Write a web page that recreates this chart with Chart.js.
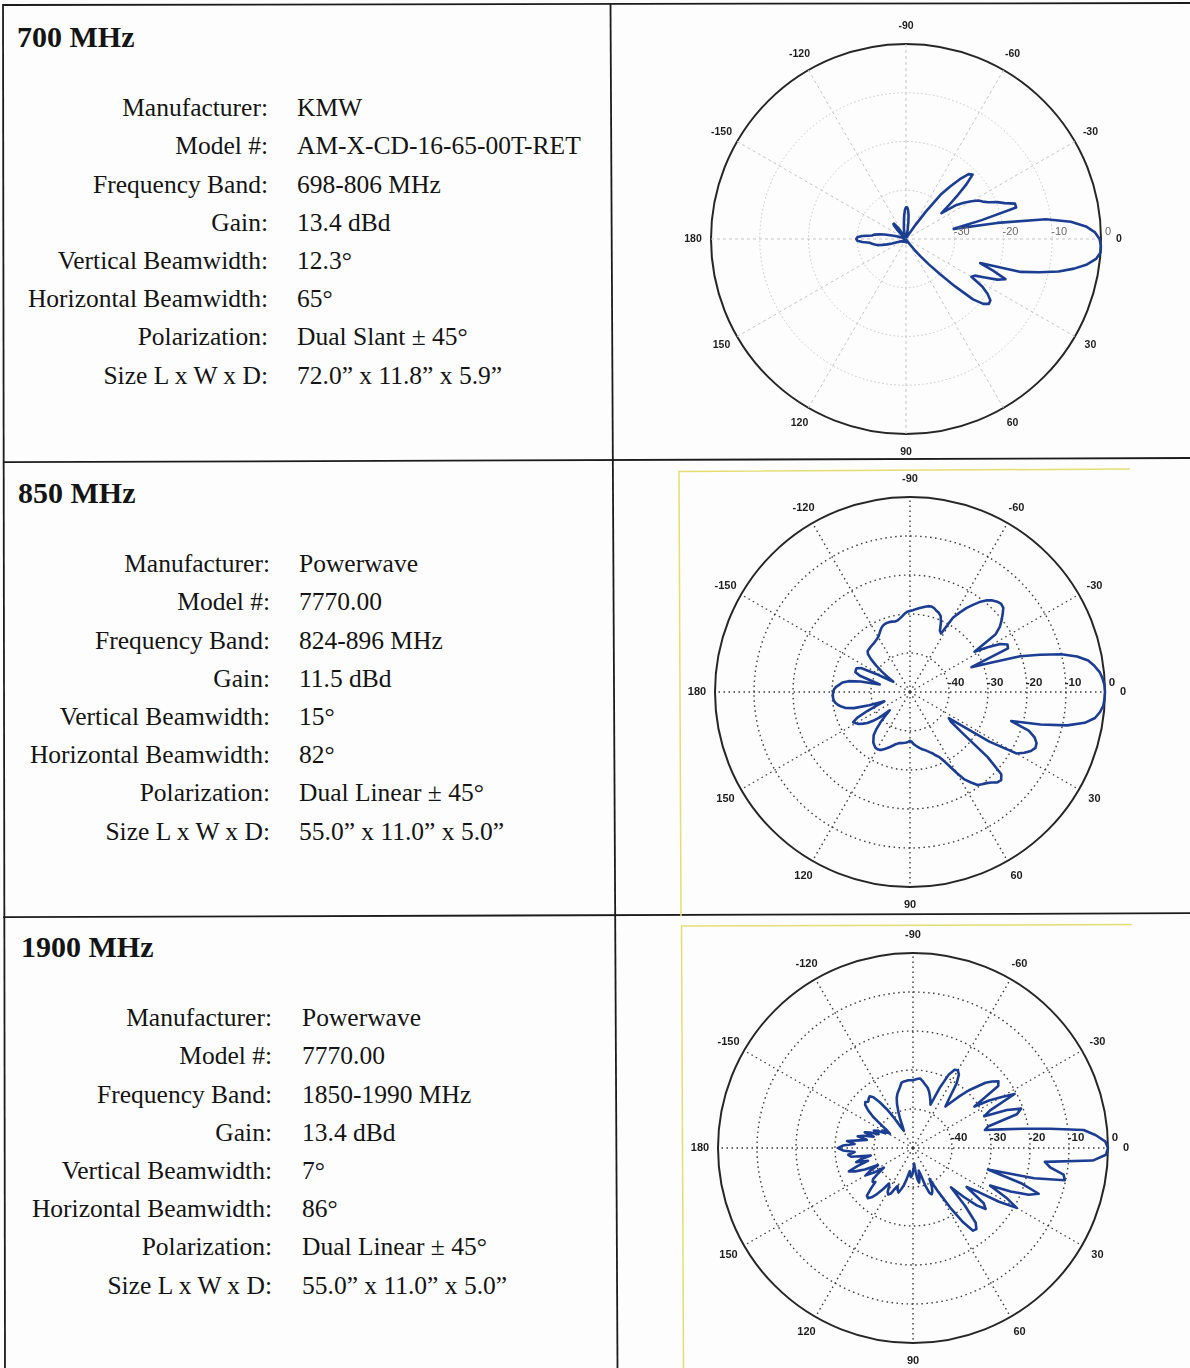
<!DOCTYPE html>
<html>
<head>
<meta charset="utf-8">
<title>Antenna vertical patterns</title>
<script src="https://cdn.jsdelivr.net/npm/chart.js@4/dist/chart.umd.min.js"></script>
<style>
  html, body { margin: 0; padding: 0; background: #ffffff; }
  #page { position: relative; width: 1190px; height: 1368px; overflow: hidden; background: #fdfdfd; }
  .txt { position: absolute; font-family: "Liberation Serif", "Times New Roman", serif; color: #141414; white-space: nowrap; line-height: 1; }
  .title { font-weight: bold; font-size: 30px; }
  .key { font-size: 25.5px; text-align: right; left: 0; }
  .val { font-size: 25.5px; }
  canvas { position: absolute; }
  svg { position: absolute; left: 0; top: 0; }
</style>
</head>
<body>
<div id="page">
  <svg width="1190" height="1368" viewBox="0 0 1190 1368">
    <g stroke="#1c1c1c" stroke-width="1.8" fill="none">
      <line x1="3" y1="5" x2="1190" y2="3"/>
      <line x1="3" y1="4" x2="5" y2="1368"/>
      <line x1="610.5" y1="4" x2="617.5" y2="1368"/>
      <line x1="3" y1="462.2" x2="1190" y2="458"/>
      <line x1="3" y1="917.2" x2="1190" y2="913.2"/>
    </g>
    <g stroke="#e6dd72" stroke-width="1.5" fill="none">
      <polyline points="1130,469 679,471.5 681,916"/>
      <polyline points="1132,924.5 681.5,926 683.5,1368"/>
    </g>
  </svg>
  <canvas id="p700" width="460" height="460" style="left:676px;top:9px"></canvas>
  <canvas id="p850" width="460" height="460" style="left:680px;top:462px"></canvas>
  <canvas id="p1900" width="460" height="460" style="left:683px;top:918px"></canvas>
</div>

<script>
// ---- Table text ----
const bandTitles = ['700 MHz', '850 MHz', '1900 MHz'];
const specNames = ['Manufacturer:', 'Model #:', 'Frequency Band:', 'Gain:',
  'Vertical Beamwidth:', 'Horizontal Beamwidth:', 'Polarization:', 'Size L x W x D:'];
const specs700 = ['KMW', 'AM-X-CD-16-65-00T-RET', '698-806 MHz', '13.4 dBd',
  '12.3°', '65°', 'Dual Slant ± 45°', '72.0” x 11.8” x 5.9”'];
const specs850 = ['Powerwave', '7770.00', '824-896 MHz', '11.5 dBd',
  '15°', '82°', 'Dual Linear ± 45°', '55.0” x 11.0” x 5.0”'];
const specs1900 = ['Powerwave', '7770.00', '1850-1990 MHz', '13.4 dBd',
  '7°', '86°', 'Dual Linear ± 45°', '55.0” x 11.0” x 5.0”'];

// ---- Polar axes ----
// pattern sampled every 2 degrees, 0 = boresight, clockwise positive (down-tilt)
const angleStep = 2;
const angleCategories = Array.from({ length: 360 / angleStep }, (_, i) => i * angleStep);
const angleTickLabels = ['0', '30', '60', '90', '120', '150', '180', '-150', '-120', '-90', '-60', '-30'];
const ringLabels700 = ['-30', '-20', '-10', '0'];
const ringLabels850 = ['-40', '-30', '-20', '-10', '0'];
const ringLabels1900 = ['-40', '-30', '-20', '-10', '0'];

// ---- Relative gain (dB) at 0, 2, 4 ... 358 degrees ----
const gain700 = [
  -0.3, 0, 0, -0.8, -2.5, -5, -8, -11.8, -15.5, -24,
  -21, -18, -19.5, -22, -24, -24.5, -21.5, -19.8, -18.6, -18.4,
  -19.3, -21.5, -26, -30, -33, -35.5, -37, -38.5, -39.2, -39.5,
  -39.5, -39.6, -39.7, -39.6, -39.5, -39.6, -39.7, -39.8, -39.7, -39.6,
  -39.5, -39.4, -39.3, -39.4, -39.5, -39.5, -39.6, -39.7, -39.6, -39.5,
  -39.4, -39.5, -39.6, -39.7, -39.6, -39.5, -39.4, -39.5, -39.6, -39.5,
  -39.4, -39.3, -39.4, -39.5, -39.6, -39.5, -39.4, -39.3, -39.2, -39.3,
  -39.2, -39.1, -39.2, -39.3, -39.4, -39.3, -39.2, -39.0, -38.8, -38.5,
  -38, -37, -36, -35, -34, -33.5, -33, -32.5, -31, -30,
  -29.8, -30, -31, -33, -33.5, -34.5, -35.5, -37, -38, -39,
  -39.3, -39.5, -39.5, -39.6, -39.5, -39.4, -39.5, -39.6, -39.5, -39.4,
  -39.5, -39, -38.5, -37.5, -36.5, -36, -36, -37, -38, -39,
  -39.5, -39.6, -39.5, -39.4, -39.5, -39.5, -39.3, -39, -38.5, -38,
  -37.5, -37, -36, -35, -34, -33.5, -33.5, -34, -35, -36.5,
  -38, -39, -39.5, -39.6, -39.5, -39.6, -39.5, -39.4, -39.5, -39.3,
  -39, -38.5, -36.5, -33, -28.5, -26, -23.5, -21.5, -21, -23.5,
  -26.5, -29, -31, -27.5, -26, -24.5, -23.2, -22.5, -21.5, -19.8,
  -18.5, -16.5, -16.5, -24, -30, -21, -11, -6, -3, -1.2
];
const gain850 = [
  0, -0.1, -0.3, -1.0, -2.1, -4.5, -8.8, -15.5, -23, -18,
  -16, -15, -14.8, -15.5, -16.8, -18.5, -26, -38, -37, -33,
  -24, -18.5, -17.5, -17.8, -18.8, -19.5, -20, -20.5, -22, -23.5,
  -26, -28.5, -30.5, -31.8, -32.5, -33.3, -33.8, -34.3, -34.7, -35,
  -35.4, -35.8, -36.2, -36.6, -37.2, -37.5, -37.2, -37, -36.9, -36.8,
  -36.7, -36.6, -36.3, -36, -35.5, -35, -34.5, -34, -33.5, -33.2,
  -33.1, -33.2, -33.6, -34, -34.8, -35.5, -37, -39, -41, -43,
  -40, -38, -36.5, -35.5, -34.5, -34, -33.5, -35, -38, -41,
  -43, -39, -35, -33, -32, -31.2, -30.6, -30.3, -30.2, -30.2,
  -30.3, -30.5, -31, -31.8, -32.5, -34, -37, -42, -40, -36.5,
  -35.1, -35, -35, -36, -40, -44, -45, -43, -41, -39,
  -37, -35.5, -34.9, -34.8, -34.7, -34.6, -34.5, -34.4, -34.2, -34,
  -33.7, -33.2, -32.6, -32, -31.6, -31.4, -31.3, -31.3, -31.4, -31.5,
  -31.4, -31, -30.5, -29.9, -29.4, -29.2, -29, -28.7, -28.4, -28.1,
  -27.8, -27.5, -27.4, -27.6, -28.1, -28.4, -29, -30.5, -32.5, -33,
  -28, -26, -24, -22.3, -20.6, -19.3, -18.4, -17.8, -17.5, -17.8,
  -19, -20.2, -21.5, -23.5, -30.5, -27, -23.8, -22.2, -22.5, -33,
  -28, -20.3, -15.3, -10, -6.2, -3.6, -2.2, -1.1, -0.5, -0.1
];
const gain1900 = [
  0, -0.5, -3.8, -16, -14.5, -10.8, -10.2, -18, -30, -21,
  -15.7, -18, -22.6, -28, -23, -19.3, -24, -30, -33, -27,
  -25.7, -28, -32, -36, -30, -25, -23.6, -23.8, -27, -32,
  -37, -41, -39, -37.8, -37.2, -37.8, -40, -43, -44, -42,
  -41, -42, -44, -46, -45, -44, -43, -42.5, -43, -44,
  -43, -41.5, -40, -39, -38, -38.5, -39.5, -38.5, -37, -36.5,
  -37, -38.5, -39, -37, -35, -33.5, -32.7, -33, -35, -37,
  -36.5, -37, -39, -41, -38, -36, -37.5, -40, -36.5, -34,
  -32.5, -35, -38, -35, -36.5, -39, -34, -33.3, -35, -32,
  -30.8, -32, -35, -33, -36, -38, -35.5, -37, -39.5, -37,
  -38.5, -40.5, -39, -40, -42, -41, -43, -42, -40, -37,
  -35, -33.5, -33, -33.5, -33, -32.7, -33.5, -35.5, -38, -41,
  -44, -45, -44, -42, -40, -38, -36.5, -35.5, -34.8, -34,
  -33, -32.8, -32.7, -32.6, -32.6, -32.6, -32.4, -32.2, -32.1, -32.6,
  -33.2, -33.7, -34.2, -35, -36, -37, -38, -33, -29, -27.3,
  -27, -27.8, -30, -34, -36.5, -34.5, -32, -29.5, -27.5, -25,
  -23.5, -22.2, -23, -31, -27, -24, -20.5, -28, -30, -24,
  -20.5, -22, -30, -31, -27, -21.5, -14.5, -6, -3, -0.7
];

// ---- Left column text ----
const page = document.getElementById('page');
function addText(cls, text, styles) {
  const el = document.createElement('div');
  el.className = 'txt ' + cls;
  el.textContent = text;
  Object.assign(el.style, styles);
  page.appendChild(el);
}
const blocks = [
  { values: specs700, titleX: 17, titleBase: 47, firstBase: 116.6, keyRight: 268, valX: 297 },
  { values: specs850, titleX: 18, titleBase: 503, firstBase: 572.6, keyRight: 270, valX: 299 },
  { values: specs1900, titleX: 21, titleBase: 957, firstBase: 1026.6, keyRight: 272, valX: 302 }
];
const lineGap = 38.2;
blocks.forEach((b, r) => {
  addText('title', bandTitles[r], { left: b.titleX + 'px', top: (b.titleBase - 0.8375 * 30) + 'px' });
  specNames.forEach((name, i) => {
    const top = b.firstBase + i * lineGap - 0.8375 * 25.5;
    addText('key', name, { width: b.keyRight + 'px', top: top + 'px' });
    addText('val', b.values[i], { left: b.valX + 'px', top: top + 'px' });
  });
});

// ---- Polar pattern charts ----
const polarText = {
  id: 'polarText',
  afterDraw(chart, args, o) {
    const s = chart.scales.r;
    const ctx = chart.ctx;
    const per = chart.data.labels.length / o.angleLabels.length;
    ctx.save();
    ctx.textAlign = 'center';
    ctx.textBaseline = 'middle';
    ctx.font = o.angleFont;
    ctx.fillStyle = o.angleColor;
    o.angleLabels.forEach((txt, k) => {
      const p = s.getPointPosition(k * per, s.drawingArea + o.labelGap);
      ctx.fillText(txt, p.x, p.y);
    });
    ctx.font = o.ringFont;
    ctx.fillStyle = o.ringColor;
    o.ringLabels.forEach(txt => {
      const d = s.getDistanceFromCenterForValue(Number(txt));
      ctx.fillText(txt, s.xCenter + d + 7, s.yCenter + o.ringDy);
    });
    ctx.restore();
  }
};

function drawPattern(id, values, cfg) {
  const spokeEvery = 30 / angleStep;
  new Chart(document.getElementById(id), {
    type: 'radar',
    data: {
      labels: angleCategories,
      datasets: [{
        data: values,
        borderColor: '#1b3d92',
        borderWidth: 2.6,
        borderJoinStyle: 'round',
        pointRadius: 0,
        fill: false,
        tension: 0
      }]
    },
    options: {
      responsive: false,
      animation: false,
      devicePixelRatio: 1,
      layout: { padding: 35 },
      plugins: {
        legend: { display: false },
        tooltip: { enabled: false },
        polarText: {
          angleLabels: angleTickLabels,
          ringLabels: cfg.ringLabels,
          angleFont: cfg.angleFont,
          angleColor: '#1e1e1e',
          ringFont: cfg.ringFont,
          ringColor: cfg.ringColor,
          ringDy: cfg.ringDy,
          labelGap: 18
        }
      },
      scales: {
        r: {
          min: cfg.min,
          max: 0,
          startAngle: 90,
          ticks: { display: false, stepSize: 10 },
          pointLabels: { display: false },
          grid: {
            circular: true,
            color: c => (c.tick && c.tick.value === 0) ? '#262626' : cfg.ringColorLine,
            lineWidth: c => (c.tick && c.tick.value === 0) ? 2 : cfg.gridWidth
          },
          border: {
            dash: c => (c.tick && c.tick.value === 0) ? [] : cfg.ringDash
          },
          angleLines: {
            color: c => (c.index % spokeEvery === 0) ? cfg.ringColorLine : 'rgba(0,0,0,0)',
            lineWidth: c => (c.index % spokeEvery === 0) ? cfg.gridWidth : 0,
            borderDash: cfg.spokeDash
          }
        }
      }
    },
    plugins: [polarText]
  });
}

drawPattern('p700', gain700, {
  min: -40, ringLabels: ringLabels700,
  angleFont: 'bold 10.5px "Liberation Sans", Arial, sans-serif',
  ringFont: '11px "Liberation Sans", Arial, sans-serif', ringColor: '#6a6a6a', ringDy: -7,
  ringColorLine: '#c4c4c4', gridWidth: 1, ringDash: [1.5, 2.5], spokeDash: [3, 3]
});
drawPattern('p850', gain850, {
  min: -50, ringLabels: ringLabels850,
  angleFont: 'bold 11px "Liberation Sans", Arial, sans-serif',
  ringFont: 'bold 11.5px "Liberation Sans", Arial, sans-serif', ringColor: '#1e1e1e', ringDy: -9,
  ringColorLine: '#3a3a3a', gridWidth: 1.4, ringDash: [1.5, 3.5], spokeDash: [1.5, 3.5]
});
drawPattern('p1900', gain1900, {
  min: -50, ringLabels: ringLabels1900,
  angleFont: 'bold 11px "Liberation Sans", Arial, sans-serif',
  ringFont: 'bold 11.5px "Liberation Sans", Arial, sans-serif', ringColor: '#1e1e1e', ringDy: -10,
  ringColorLine: '#3a3a3a', gridWidth: 1.4, ringDash: [1.5, 3.5], spokeDash: [1.5, 3.5]
});
</script>
</body>
</html>
